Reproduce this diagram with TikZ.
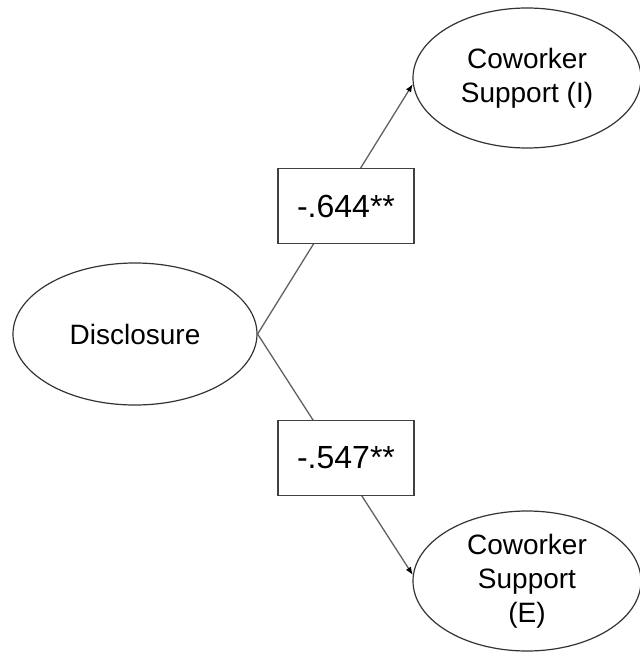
\documentclass[tikz,border=0pt]{standalone}
\usepackage{fontspec}
\setmainfont{Liberation Sans}
\usetikzlibrary{shapes.geometric,arrows.meta}
\begin{document}
\begin{tikzpicture}[x=1pt,y=-1pt,
  latent/.style={ellipse, draw=black!80, line width=1.2pt, inner sep=0pt,
    align=center, font=\fontsize{28}{34}\selectfont},
  coef/.style={rectangle, draw=black!75, line width=1.3pt, fill=white,
    minimum width=136pt, minimum height=75pt, inner sep=0pt,
    font=\fontsize{32}{38}\selectfont},
  pathline/.style={draw=black!62, line width=1.3pt,
    -{Latex[length=8pt,width=6pt,black]}}]
\useasboundingbox (0,0) rectangle (640,654);

% latent variables
\node[latent, minimum width=244pt, minimum height=142pt] (D) at (135,334) {Disclosure};
\node[latent, minimum width=228pt, minimum height=140pt] (I) at (527,78) {Coworker\\Support (I)};
\node[latent, minimum width=228pt, minimum height=140pt] (E) at (527,581) {Coworker\\Support\\(E)};

% structural paths
\draw[pathline] (D.east) -- (I.183);
\draw[pathline] (D.east) -- (E.177);

% path coefficients
\node[coef] (c1) at (346,206) {-.644**};
\node[coef] (c2) at (346,458) {-.547**};
\end{tikzpicture}
\end{document}
